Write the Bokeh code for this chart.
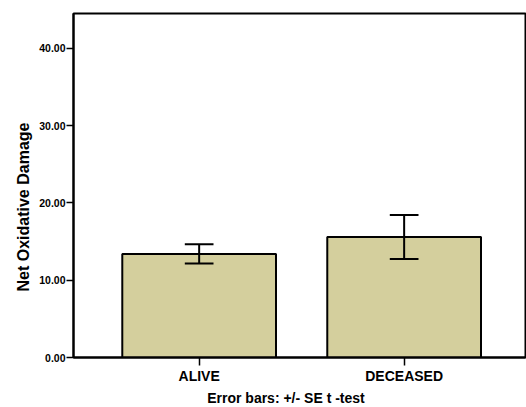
from bokeh.plotting import figure
from bokeh.models import Range1d, FixedTicker, NumeralTickFormatter, Title, ColumnDataSource
from bokeh.embed import file_html
from bokeh.resources import INLINE

# ---- data ----
categories = ["ALIVE", "DECEASED"]
means = [13.4, 15.6]
se = [1.25, 2.85]
y_ticks = [0, 10, 20, 30, 40]
y_label = "Net Oxidative Damage"
note = "Error bars: +/- SE t -test"

FONT = "Liberation Sans"
BAR_FILL = "#D4CF9D"

xpos = [i + 0.5 for i in range(len(categories))]
lower = [m - s for m, s in zip(means, se)]
upper = [m + s for m, s in zip(means, se)]
cap = 0.07

src = ColumnDataSource(dict(
    x=xpos, top=means, lower=lower, upper=upper,
    cl=[x - cap for x in xpos], cr=[x + cap for x in xpos],
))

p = figure(width=526, height=407, output_backend="svg", toolbar_location=None,
           x_range=Range1d(-0.113, 2.092), y_range=Range1d(0, 44.5),
           min_border_left=73, min_border_right=1, min_border_top=13,
           min_border_bottom=50)
p.grid.visible = False
p.background_fill_color = "white"
p.border_fill_color = "white"
p.outline_line_color = "black"
p.outline_line_width = 2

p.vbar(x="x", top="top", width=0.75, bottom=0, source=src,
       fill_color=BAR_FILL, line_color="black", line_width=2)
p.segment(x0="x", y0="lower", x1="x", y1="upper", source=src,
          line_color="black", line_width=2)
p.segment(x0="cl", y0="upper", x1="cr", y1="upper", source=src,
          line_color="black", line_width=2)
p.segment(x0="cl", y0="lower", x1="cr", y1="lower", source=src,
          line_color="black", line_width=2)

# y axis
ya = p.yaxis[0]
ya.ticker = FixedTicker(ticks=y_ticks)
ya.formatter = NumeralTickFormatter(format="0.00")
ya.major_label_text_font = FONT
ya.major_label_text_font_style = "bold"
ya.major_label_text_font_size = "10.5px"
ya.major_label_text_color = "black"
ya.major_label_standoff = 1
ya.major_tick_out = 7
ya.major_tick_in = 0
ya.major_tick_line_width = 1.5
ya.minor_tick_line_color = None
ya.axis_line_width = 2
ya.axis_line_color = "black"

# x axis
xa = p.xaxis[0]
xa.ticker = FixedTicker(ticks=xpos)
xa.major_label_overrides = {x: c for x, c in zip(xpos, categories)}
xa.major_label_text_font = FONT
xa.major_label_text_font_style = "bold"
xa.major_label_text_font_size = "14px"
xa.major_label_text_color = "black"
xa.major_label_standoff = 2
xa.major_tick_out = 8
xa.major_tick_in = 0
xa.major_tick_line_width = 1.5
xa.minor_tick_line_color = None
xa.axis_line_width = 2
xa.axis_line_color = "black"

# y axis title as a left Title (allows offset along the axis)
p.add_layout(Title(text=y_label, align="left", offset=66, standoff=10,
                   text_font=FONT, text_font_style="bold",
                   text_font_size="16px", text_color="black"), "left")

# note below the x axis
p.add_layout(Title(text=note, align="left", offset=133.7, standoff=2,
                   text_font=FONT, text_font_style="bold",
                   text_font_size="14px", text_color="black"), "below")

open("out.html", "w").write(file_html(p, INLINE))
